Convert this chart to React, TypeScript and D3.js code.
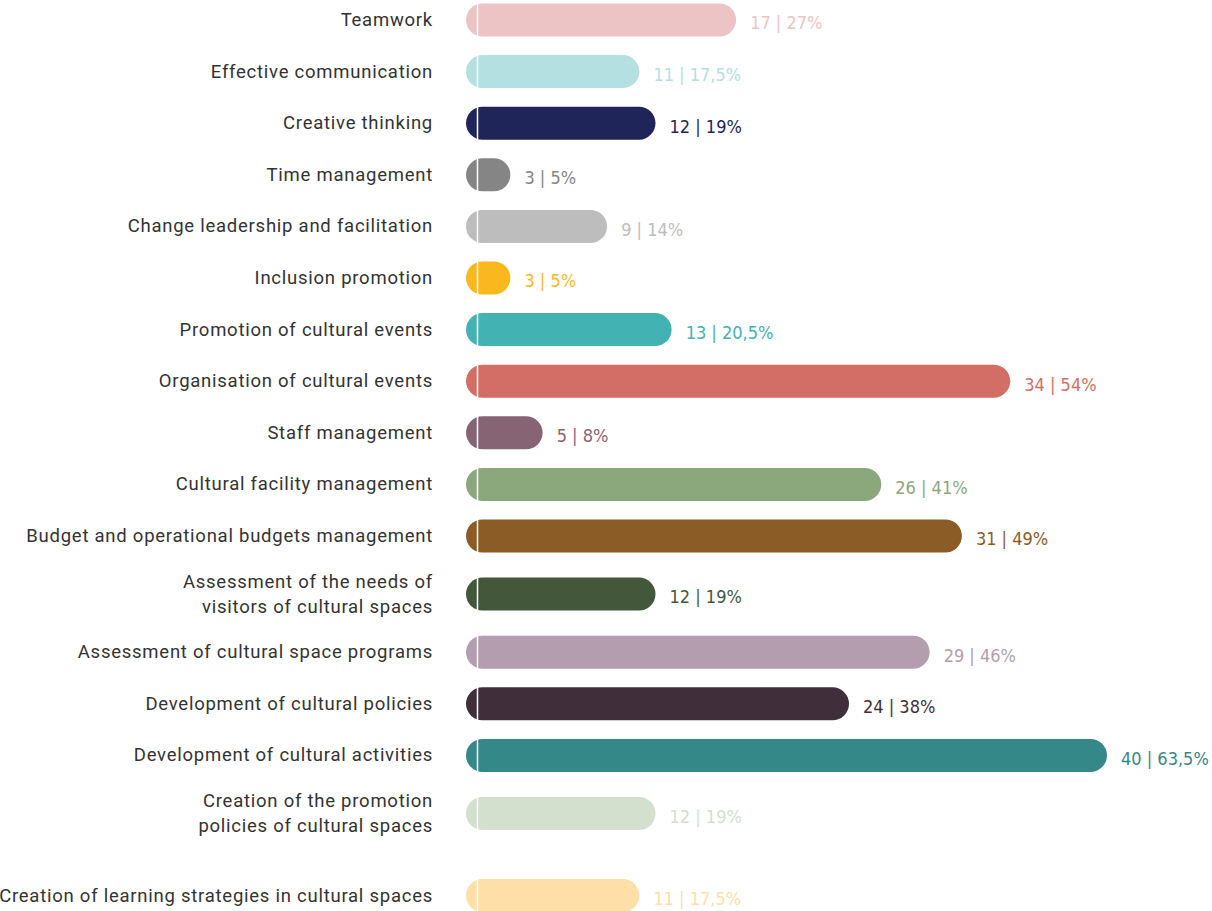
import React, { useEffect, useRef } from 'react'
import * as d3 from 'd3'

const CATEGORIES = [
  'Teamwork',
  'Effective communication',
  'Creative thinking',
  'Time management',
  'Change leadership and facilitation',
  'Inclusion promotion',
  'Promotion of cultural events',
  'Organisation of cultural events',
  'Staff management',
  'Cultural facility management',
  'Budget and operational budgets management',
  'Assessment of the needs of\nvisitors of cultural spaces',
  'Assessment of cultural space programs',
  'Development of cultural policies',
  'Development of cultural activities',
  'Creation of the promotion\npolicies of cultural spaces',
  'Creation of learning strategies in cultural spaces',
]

const COUNTS = [17, 11, 12, 3, 9, 3, 13, 34, 5, 26, 31, 12, 29, 24, 40, 12, 11]
const PERCENTS = ['27%', '17,5%', '19%', '5%', '14%', '5%', '20,5%', '54%', '8%', '41%', '49%', '19%', '46%', '38%', '63,5%', '19%', '17,5%']

const COLORS = [
  '#EDC4C5', '#B4E0E2', '#1F2459', '#858585', '#BDBDBD', '#FBB81D',
  '#42B2B3', '#D36E66', '#876474', '#8AA87C', '#8B5C25', '#43573A',
  '#B49DAF', '#402F3A', '#348888', '#D2E0CD', '#FDDFA7',
]

const W = 1212
const H = 911

export default function App() {
  const ref = useRef<SVGSVGElement>(null)

  useEffect(() => {
    document.body.style.margin = '0'
    const svg = d3.select(ref.current)
    svg.selectAll('*').remove()

    const data = CATEGORIES.map((c, i) => ({
      label: c,
      lines: c.split('\n'),
      count: COUNTS[i],
      pct: PERCENTS[i],
      color: COLORS[i],
    }))

    // row centres: base step, two-line labels get a little more room
    const step = 51.6
    const extra = 6.5
    const ys: number[] = []
    let acc = 20
    data.forEach((d, i) => {
      if (i > 0) {
        acc += step + extra * (data[i - 1].lines.length - 1) + extra * (d.lines.length - 1)
        if (i === data.length - 1) acc += 24
      }
      ys.push(acc)
    })

    const x = d3.scaleLinear().domain([0, 40]).range([462, 1107])
    const x0 = 466
    const barH = 33

    const g = svg.append('g')

    const rows = g.selectAll('g.row').data(data).join('g')
      .attr('class', 'row')
      .attr('transform', (_d, i) => `translate(0,${ys[i]})`)

    rows.append('rect')
      .attr('x', x0)
      .attr('y', -barH / 2)
      .attr('width', d => x(d.count) - x0)
      .attr('height', barH)
      .attr('rx', barH / 2)
      .attr('fill', d => d.color)

    rows.append('line')
      .attr('x1', x0 + 11.5)
      .attr('x2', x0 + 11.5)
      .attr('y1', -barH / 2)
      .attr('y2', barH / 2)
      .attr('stroke', '#ffffff')
      .attr('stroke-width', 1.5)

    rows.append('text')
      .attr('x', d => x(d.count) + 14)
      .attr('y', 3)
      .attr('dy', '0.35em')
      .attr('font-family', "'DejaVu Sans Condensed', 'DejaVu Sans', sans-serif")
      .attr('font-stretch', 'condensed')
      .attr('font-size', 18)
      .attr('fill', d => d.color)
      .text(d => `${d.count} | ${d.pct}`)

    const lab = rows.append('text')
      .attr('x', 433)
      .attr('text-anchor', 'end')
      .attr('font-family', 'Roboto, sans-serif')
      .attr('font-size', 18.5)
      .attr('letter-spacing', 0.75)
      .attr('fill', '#333333')

    lab.selectAll('tspan').data(d => d.lines.map((t, k) => ({ t, k, n: d.lines.length })))
      .join('tspan')
      .attr('x', 433)
      .attr('y', t => (t.k - (t.n - 1) / 2) * 25)
      .attr('dy', '0.32em')
      .text(t => t.t)
  }, [])

  return (
    <svg ref={ref} width={W} height={H} style={{ display: 'block', background: '#ffffff' }} />
  )
}
